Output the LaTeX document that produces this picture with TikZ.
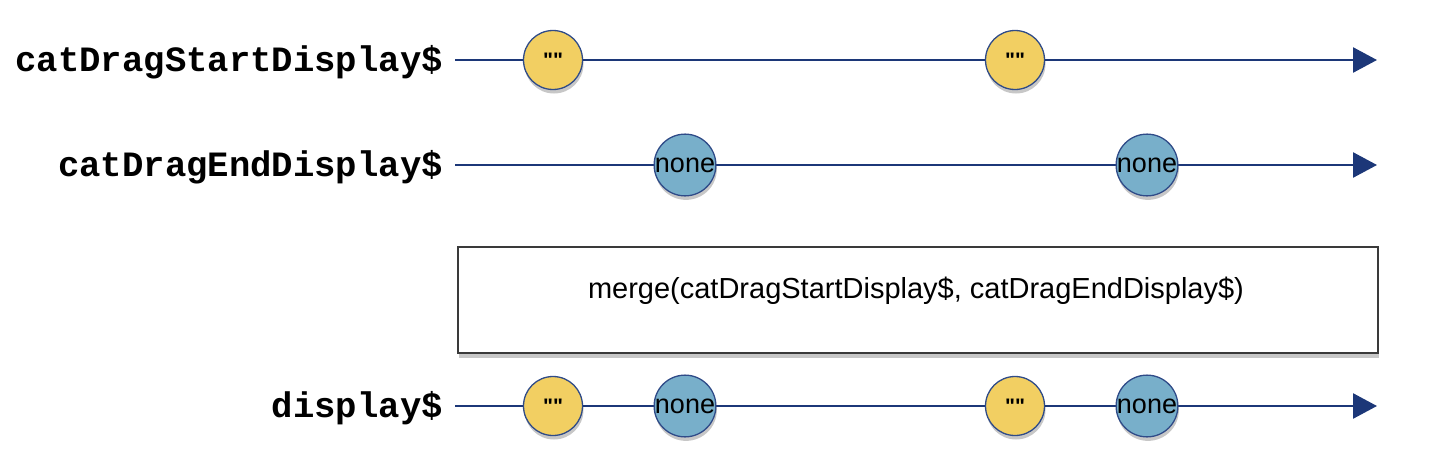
\documentclass[tikz,border=0pt]{standalone}
\usepackage{fontspec}
\setmainfont{Liberation Sans}
\newfontfamily\plainsans{Liberation Sans}
\newfontfamily\monob{Liberation Mono}
\usetikzlibrary{arrows.meta,shadows}
\definecolor{linec}{HTML}{1C3778}
\definecolor{evy}{HTML}{F2CF62}
\definecolor{evb}{HTML}{78AFCA}
\definecolor{rimc}{HTML}{2F4B88}
\definecolor{boxc}{HTML}{3A3A3A}
\tikzset{
  x=1pt,y=1pt,
  lbl/.style={font=\monob\bfseries\fontsize{35.6}{40}\selectfont, anchor=base east, inner sep=0pt},
  timeline/.style={draw=linec, line width=2.6pt, -{Triangle[length=24pt,width=25pt]}},
  marble/.style={circle, draw=rimc, line width=1.3pt, minimum size=59pt, inner sep=0pt,
     drop shadow={shadow xshift=1pt, shadow yshift=-4pt, opacity=0.22, fill=black}},
  yel/.style={marble, fill=evy, font=\plainsans\bfseries\fontsize{21}{24}\selectfont},
  blu/.style={marble, fill=evb, font=\plainsans\fontsize{27}{30}\selectfont},
  opbox/.style={draw=boxc, line width=1.6pt, fill=white, anchor=north west,
     minimum width=920pt, minimum height=106pt, inner sep=0pt,
     drop shadow={shadow xshift=1pt, shadow yshift=-5pt, opacity=0.22, fill=black}},
}
\begin{document}
\begin{tikzpicture}
\useasboundingbox (0,0) rectangle (1440,-463);
% labels
\node[lbl] (l1) at (443,-71) {catDragStartDisplay\$};
\node[lbl] (l2) at (443,-176) {catDragEndDisplay\$};
\node[lbl] (l3) at (443,-417) {display\$};
% timelines
\coordinate (s1) at (455,-60);  \coordinate (e1) at (1377,-60);
\coordinate (s2) at (455,-165); \coordinate (e2) at (1377,-165);
\coordinate (s3) at (455,-406); \coordinate (e3) at (1377,-406);
\draw[timeline] (s1) -- (e1);
\draw[timeline] (s2) -- (e2);
\draw[timeline] (s3) -- (e3);
% marbles row 1
\node[yel] (a1) at (553,-60) {""};
\node[yel] (a2) at (1015,-60) {""};
% marbles row 2
\node[blu] (b1) at (685,-165) {none};
\node[blu] (b2) at (1147,-165) {none};
% operator box
\node[opbox] (op) at (457,-246) {};
\node[font=\fontsize{29}{32}\selectfont, anchor=base] (optext) at (916,-298) {merge(catDragStartDisplay\$, catDragEndDisplay\$)};
% marbles row 3
\node[yel] (c1) at (553,-406) {""};
\node[blu] (c2) at (685,-406) {none};
\node[yel] (c3) at (1015,-406) {""};
\node[blu] (c4) at (1147,-406) {none};
\end{tikzpicture}
\end{document}
